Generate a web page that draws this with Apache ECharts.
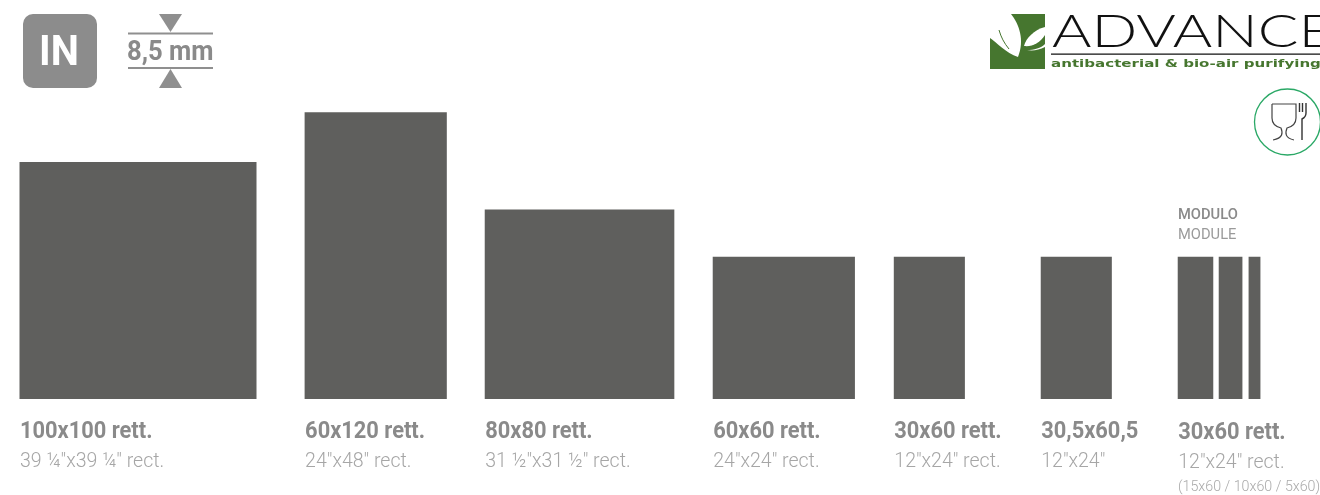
<!DOCTYPE html>
<html><head><meta charset="utf-8">
<style>html,body{margin:0;padding:0;background:#fff}#c{width:1320px;height:495px}</style>
<script src="https://cdn.jsdelivr.net/npm/echarts@6/dist/echarts.min.js"></script>
</head><body><div id="c"></div>
<script>
// Tile formats, all sizes in cm
const categories = ['100x100 rett.','60x120 rett.','80x80 rett.','60x60 rett.','30x60 rett.','30,5x60,5','30x60 rett.','',''];
const subLabels  = ['39 ¼"x39 ¼" rect.','24"x48" rect.','31 ½"x31 ½" rect.','24"x24" rect.','12"x24" rect.','12"x24"','12"x24" rect.','',''];
const starts  = [0,120.3,196.3,292.5,368.9,430.9,488.7,506,518.6];
const widths  = [100,60,80,60,30,30,15,10,5];
const heights = [100,121,80,60,60,60,60,60,60];

const ink='#5f5f5d', grey='#8a8a8a', light='#a6a6a6', green='#46762f';
const F='"Roboto","Noto Sans",sans-serif';
const chart=echarts.init(document.getElementById('c'),null,{renderer:'canvas'});
function txt(x,y,t,size,weight,fill,sx,family){return {type:'text',x,y,scaleX:sx||1,silent:true,
  style:{text:t,font:`${weight} ${size}px ${family||F}`,fill,verticalAlign:'middle',align:'left'}};}
function path(d,style){return {type:'path',shape:{pathData:d},style,silent:true};}
chart.setOption({
  animation:false,
  grid:{left:19.5,top:112,width:1256.1,height:287},
  xAxis:{type:'value',min:0,max:530,show:false},
  yAxis:{type:'value',min:0,max:121.1,show:false},
  graphic:[
    {type:'rect',shape:{x:23,y:14,width:74,height:74,r:10},style:{fill:'#8c8c8c'}},
    txt(39,54,'IN',42,700,'#fff',0.95),
    {type:'rect',shape:{x:128,y:32.5,width:85,height:2},style:{fill:'#8f8f8f'}},
    {type:'rect',shape:{x:128,y:67,width:85,height:2},style:{fill:'#8f8f8f'}},
    {type:'polygon',shape:{points:[[159,14],[182,14],[170.5,32]]},style:{fill:'#8f8f8f'}},
    {type:'polygon',shape:{points:[[170.5,69],[182,88],[159,88]]},style:{fill:'#8f8f8f'}},
    txt(127,53,'8,5 mm',27,700,'#8a8a8a',0.95),
    {type:'rect',shape:{x:990,y:14,width:55,height:55},style:{fill:green}},
    txt(1052,32,'ADVANCE',46,300,'#111',1.31,'"Lato",sans-serif'),
    {type:'rect',shape:{x:1051,y:53.5,width:269,height:1.2},style:{fill:'#111'}},
    txt(1051,64,'antibacterial & bio-air purifying',11,700,green,1.37,'"DejaVu Sans",sans-serif'),
    {type:'circle',shape:{cx:1287.5,cy:122,r:33},style:{fill:'#fff',stroke:'#2aa866',lineWidth:1.3}},
    txt(1178,215,'MODULO',14,500,'#8a8a8a',1.05),
    txt(1178,235,'MODULE',14,400,'#9a9a9a',1.05),
    txt(1178,487,'(15x60 / 10x60 / 5x60)',15,300,'#aaaaaa',0.95)
  ],
  series:[{
    type:'custom',
    coordinateSystem:'cartesian2d',
    clip:false,
    encode:{x:[0,1],y:2},
    data:categories.map((c,i)=>[starts[i],widths[i],heights[i],i]),
    renderItem(params,api){
      const i=api.value(3), p0=api.coord([api.value(0),0]), p1=api.coord([api.value(0)+api.value(1),api.value(2)]);
      const kids=[{type:'rect',shape:{x:p0[0],y:p1[1],width:p1[0]-p0[0],height:p0[1]-p1[1]},style:{fill:ink}}];
      if(categories[i]){
        const dy=i===6?1:0;
        kids.push(txt(p0[0]+0.5,p0[1]+33+dy,categories[i],23,700,grey,0.95));
        kids.push(txt(p0[0]+0.5,p0[1]+63+dy,subLabels[i],21,300,light,0.93));
      }
      return {type:'group',children:kids};
    }
  },{
    type:'custom',
    coordinateSystem:'none',
    silent:true,
    z:5,
    data:[0],
    renderItem(){
      return {type:'group',children:[
        path('M990 14 L1011 14 C1019 24 1025 40 1018 57 C1006 53 996 42 990 38 Z',{fill:'#fff'}),
        path('M999 30 C1001 37 1004 43 1009 49',{fill:'none',stroke:green,lineWidth:1}),
        path('M1045 27 C1034 30 1026 38 1024 46 C1032 47 1040 43 1045 35 Z',{fill:'#fff'}),
        path('M1027 50 C1034 50 1041 48 1045 44 L1045 47 C1039 50 1033 51 1027 50 Z',{fill:'#fff'}),
        path('M1272 104 L1296 104 L1296 118 C1296 124 1291 127 1287 128 C1285 133 1285 138 1294 140 M1272 104 L1272 118 C1272 124 1277 127 1281 128 C1283 133 1283 138 1273 140',{fill:'none',stroke:'#444',lineWidth:1.2}),
        path('M1299.5 103 L1299.5 112 M1302.5 103 L1302.5 112 M1306 103 L1306 113 C1306 116 1304 118 1302 119 L1302 140',{fill:'none',stroke:'#333',lineWidth:1.4})
      ]};
    }
  }]
});
</script></body></html>
